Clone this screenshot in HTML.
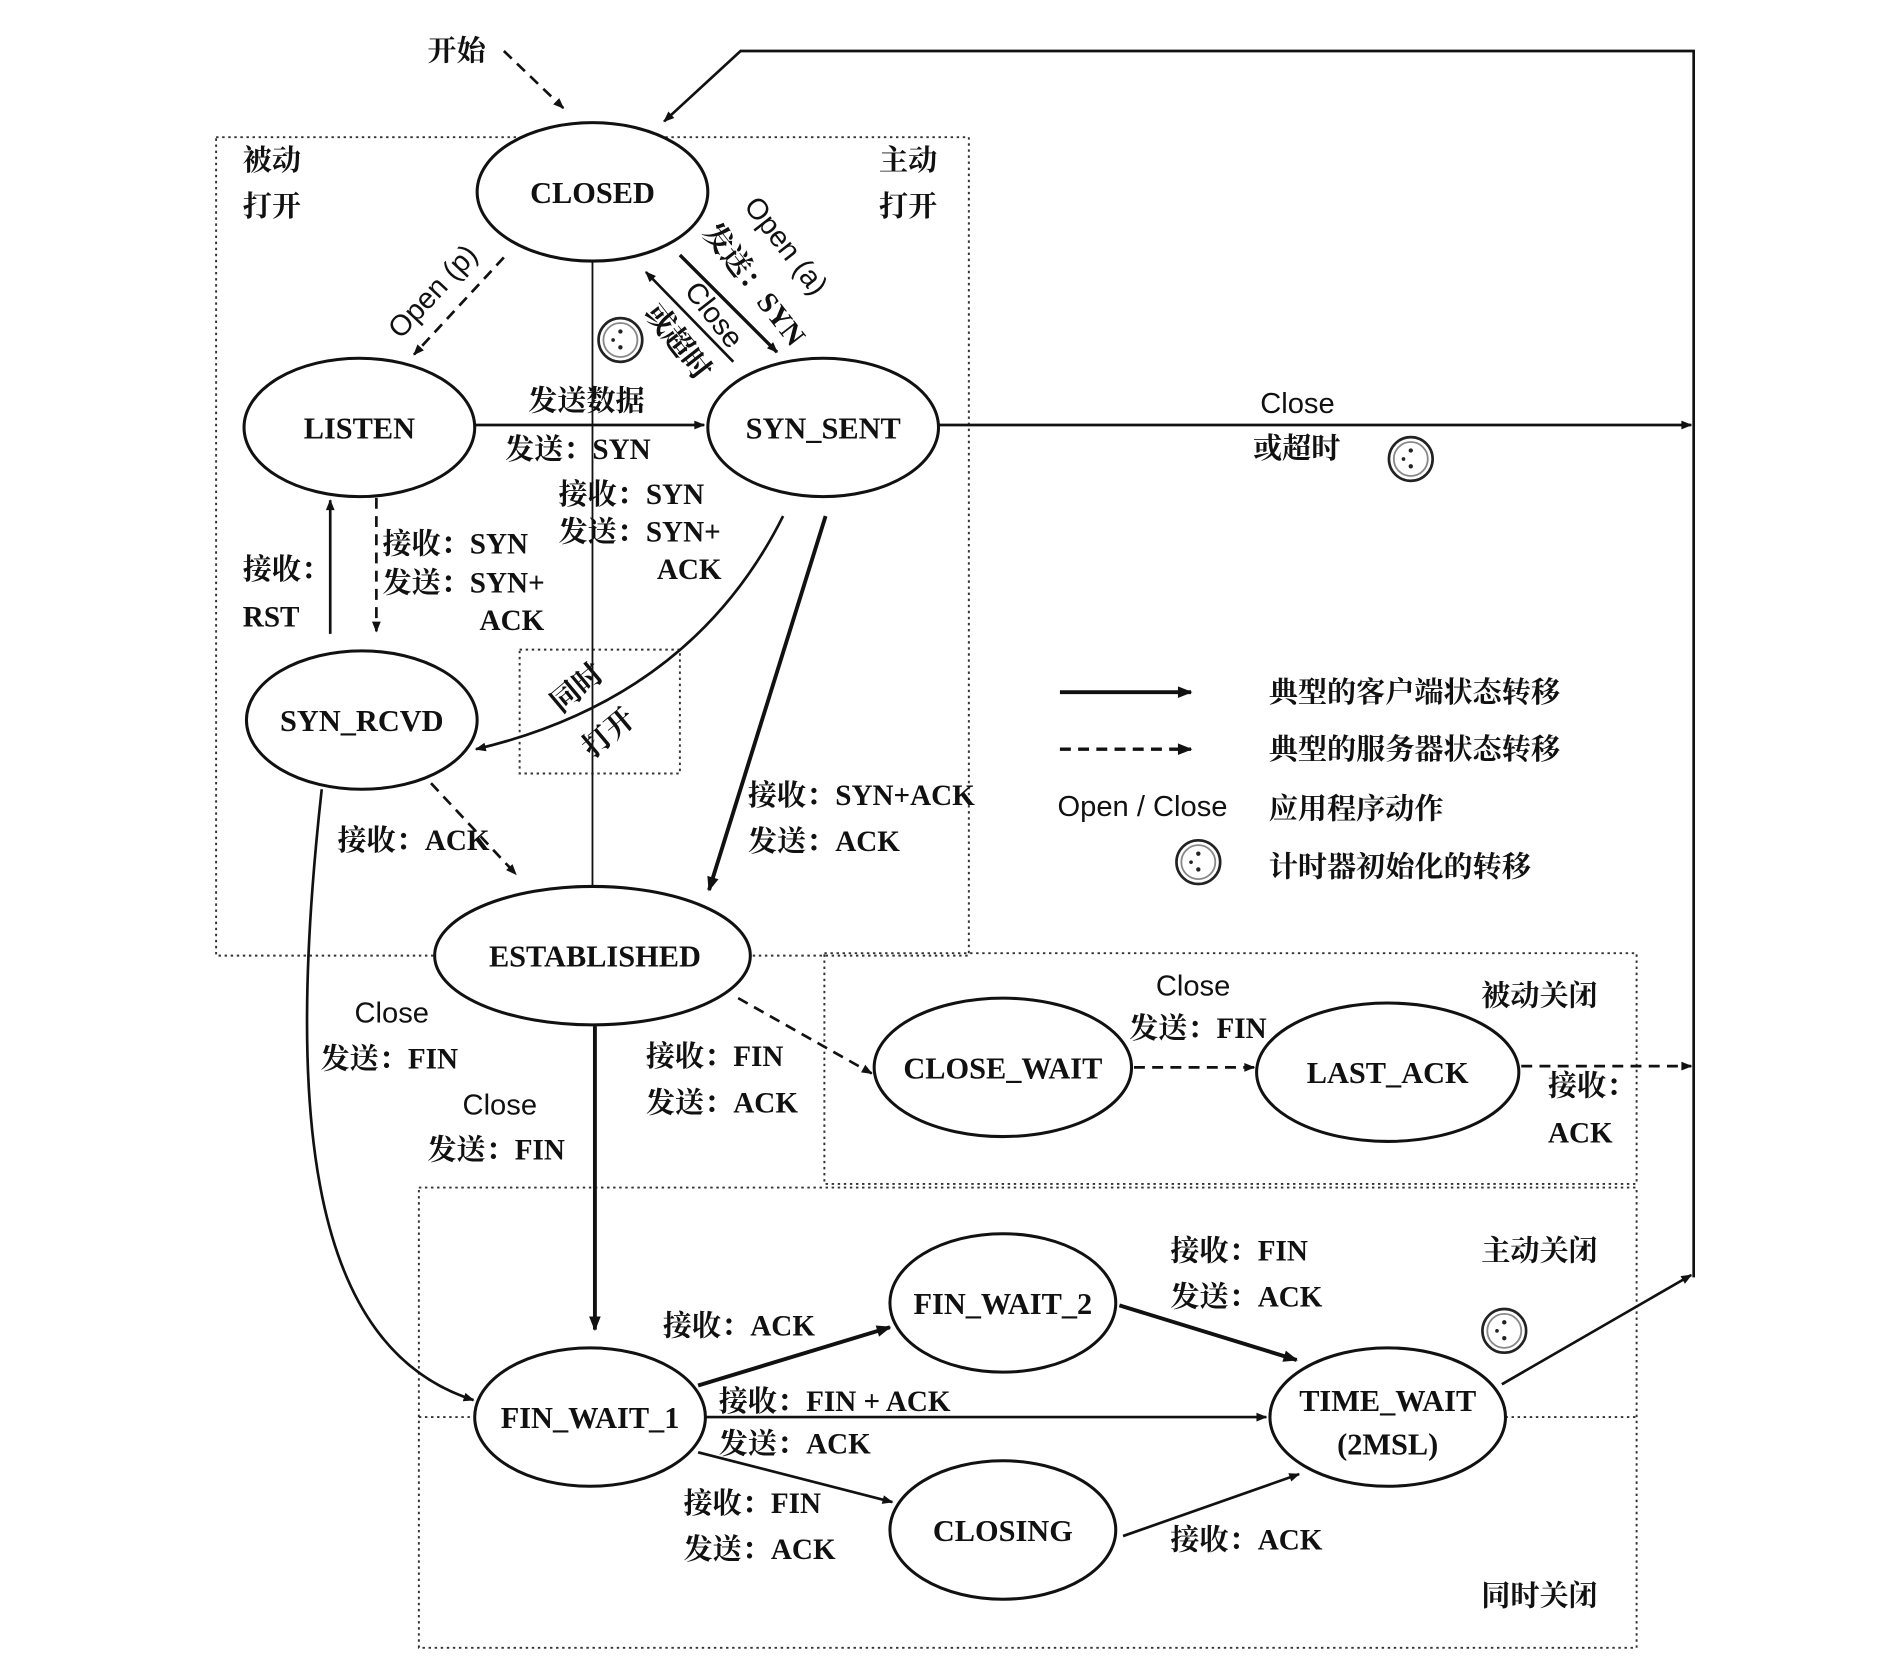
<!DOCTYPE html>
<html><head><meta charset="utf-8"><style>
html,body{margin:0;padding:0;background:#fff;}
svg{display:block;}
.s{font-family:"Liberation Serif","Noto Serif CJK SC",serif;font-size:25px;fill:#111;font-weight:bold;}
.c{font-family:"Liberation Serif","Noto Serif CJK SC",serif;font-size:24px;fill:#111;font-weight:bold;}
.a{font-family:"Liberation Sans","Noto Sans CJK SC",sans-serif;font-size:24px;fill:#111;}
</style></head><body>
<svg width="1894" height="1666" viewBox="0 0 1560 1372" preserveAspectRatio="none" xmlns="http://www.w3.org/2000/svg">
<defs>
<marker id="ar" viewBox="0 0 10 10" refX="9" refY="5" markerWidth="10" markerHeight="9" markerUnits="userSpaceOnUse" orient="auto"><path d="M0,1 L10,5 L0,9 z" fill="#111"/></marker>
<marker id="arb" viewBox="0 0 10 10" refX="9" refY="5" markerWidth="14" markerHeight="12" markerUnits="userSpaceOnUse" orient="auto"><path d="M0,1 L10,5 L0,9 z" fill="#111"/></marker>
<g id="clk"><circle r="18" fill="#fff" stroke="#222" stroke-width="2.2"/><circle r="14" fill="none" stroke="#888" stroke-width="1.5"/><circle cx="0" cy="-7" r="1.8" fill="#222"/><circle cx="0" cy="6" r="1.8" fill="#222"/><circle cx="-6" cy="0" r="1.5" fill="#222"/></g>
</defs>
<g fill="none" stroke="#333" stroke-width="1.6" stroke-dasharray="2,3">
<rect x="178" y="113" width="620" height="674"/>
<rect x="428" y="535" width="132" height="102"/>
<rect x="679" y="785" width="669" height="190"/>
<rect x="345" y="978" width="1003" height="379"/>
<line x1="345" y1="1167" x2="1348" y2="1167"/>
</g>
<g fill="none" stroke="#111" stroke-width="2.2">
<line x1="488" y1="215" x2="488" y2="730" stroke-width="1.5"/>
<polyline points="1395,1052 1395,42 610,42 547,100" marker-end="url(#ar)"/>
<line x1="773" y1="350" x2="1393" y2="350" marker-end="url(#ar)"/>
<line x1="1237" y1="1140" x2="1393" y2="1050" marker-end="url(#ar)"/>
<line x1="560" y1="210" x2="640" y2="290" stroke-width="2.8" marker-end="url(#ar)"/>
<line x1="604" y1="298" x2="532" y2="224" marker-end="url(#ar)"/>
<line x1="391" y1="350" x2="580" y2="350" marker-end="url(#ar)"/>
<line x1="272" y1="522" x2="272" y2="412" marker-end="url(#ar)"/>
<path d="M645,425 Q570,575 392,617" marker-end="url(#ar)"/>
<line x1="680" y1="425" x2="584" y2="733" stroke-width="3.2" marker-end="url(#arb)"/>
<line x1="490" y1="845" x2="490" y2="1095" stroke-width="3.2" marker-end="url(#arb)"/>
<path d="M265,650 C235,920 255,1110 390,1153" marker-end="url(#ar)"/>
<line x1="575" y1="1141" x2="733" y2="1093" stroke-width="3.2" marker-end="url(#arb)"/>
<line x1="581" y1="1167" x2="1043" y2="1167" marker-end="url(#ar)"/>
<line x1="575" y1="1196" x2="735" y2="1237" marker-end="url(#ar)"/>
<line x1="922" y1="1075" x2="1068" y2="1120" stroke-width="3.2" marker-end="url(#arb)"/>
<line x1="925" y1="1265" x2="1070" y2="1214" marker-end="url(#ar)"/>
<line x1="873" y1="570" x2="981" y2="570" stroke-width="3.2" marker-end="url(#arb)"/>
</g>
<g fill="none" stroke="#111" stroke-width="2.2" stroke-dasharray="9,6">
<line x1="415" y1="42" x2="464" y2="89" marker-end="url(#ar)"/>
<line x1="415" y1="212" x2="341" y2="292" marker-end="url(#ar)"/>
<line x1="310" y1="410" x2="310" y2="520" marker-end="url(#ar)"/>
<line x1="355" y1="645" x2="425" y2="720" marker-end="url(#ar)"/>
<line x1="608" y1="822" x2="718" y2="884" marker-end="url(#ar)"/>
<line x1="934" y1="879" x2="1033" y2="879" marker-end="url(#ar)"/>
<line x1="1253" y1="878" x2="1393" y2="878" marker-end="url(#ar)"/>
<line x1="873" y1="617" x2="981" y2="617" stroke-width="2.8" marker-end="url(#arb)"/>
</g>
<g fill="#fff" stroke="#111" stroke-width="2.5">
<ellipse cx="488" cy="158" rx="95" ry="57"/>
<ellipse cx="296" cy="352" rx="95" ry="57"/>
<ellipse cx="678" cy="352" rx="95" ry="57"/>
<ellipse cx="298" cy="593" rx="95" ry="57"/>
<ellipse cx="488" cy="787" rx="130" ry="57"/>
<ellipse cx="826" cy="879" rx="106" ry="57"/>
<ellipse cx="1143" cy="883" rx="108" ry="57"/>
<ellipse cx="486" cy="1167" rx="95" ry="57"/>
<ellipse cx="826" cy="1073" rx="93" ry="57"/>
<ellipse cx="826" cy="1260" rx="93" ry="57"/>
<ellipse cx="1143" cy="1167" rx="97" ry="57"/>
</g>
<g class="s" text-anchor="middle">
<text x="488" y="167">CLOSED</text>
<text x="296" y="361">LISTEN</text>
<text x="678" y="361">SYN_SENT</text>
<text x="298" y="602">SYN_RCVD</text>
<text x="490" y="796">ESTABLISHED</text>
<text x="826" y="888">CLOSE_WAIT</text>
<text x="1143" y="892">LAST_ACK</text>
<text x="486" y="1176">FIN_WAIT_1</text>
<text x="826" y="1082">FIN_WAIT_2</text>
<text x="826" y="1269">CLOSING</text>
<text x="1143" y="1162">TIME_WAIT</text>
<text x="1143" y="1198">(2MSL)</text>
</g>
<g class="c">
<text x="352" y="50">开始</text>
<text x="200" y="140">被动</text><text x="200" y="178">打开</text>
<text x="724" y="140">主动</text><text x="724" y="178">打开</text>
<text x="435" y="338">发送数据</text>
<text x="416" y="378">发送：SYN</text>
<text x="460" y="415">接收：SYN</text>
<text x="460" y="446">发送：SYN+</text>
<text x="541" y="477">ACK</text>
<text x="315" y="456">接收：SYN</text>
<text x="315" y="488">发送：SYN+</text>
<text x="395" y="519">ACK</text>
<text x="200" y="477">接收：</text>
<text x="200" y="516">RST</text>
<text x="278" y="700">接收：ACK</text>
<text x="616" y="663">接收：SYN+ACK</text>
<text x="616" y="701">发送：ACK</text>
<text x="264" y="880">发送：FIN</text>
<text x="352" y="955">发送：FIN</text>
<text x="532" y="878">接收：FIN</text>
<text x="532" y="916">发送：ACK</text>
<text x="930" y="855">发送：FIN</text>
<text x="1220" y="828">被动关闭</text>
<text x="1275" y="902">接收：</text>
<text x="1275" y="941">ACK</text>
<text x="1032" y="377">或超时</text>
<text x="964" y="1038">接收：FIN</text>
<text x="964" y="1076">发送：ACK</text>
<text x="1220" y="1038">主动关闭</text>
<text x="546" y="1100">接收：ACK</text>
<text x="592" y="1162">接收：FIN + ACK</text>
<text x="592" y="1197">发送：ACK</text>
<text x="563" y="1246">接收：FIN</text>
<text x="563" y="1284">发送：ACK</text>
<text x="964" y="1276">接收：ACK</text>
<text x="1220" y="1322">同时关闭</text>
<text x="1045" y="578">典型的客户端状态转移</text>
<text x="1045" y="625">典型的服务器状态转移</text>
<text x="1045" y="674">应用程序动作</text>
<text x="1045" y="722">计时器初始化的转移</text>
<text transform="translate(462,588) rotate(-40)">同时</text>
<text transform="translate(488,625) rotate(-40)">打开</text>
<text transform="translate(578,192) rotate(52)">发送：SYN</text>
<text transform="translate(530,258) rotate(52)">或超时</text>
</g>
<g class="a">
<text x="292" y="842">Close</text>
<text x="381" y="918">Close</text>
<text x="952" y="820">Close</text>
<text x="1038" y="340">Close</text>
<text x="871" y="672">Open / Close</text>
<text transform="translate(330,280) rotate(-47)">Open (p)</text>
<text transform="translate(612,170) rotate(52)">Open (a)</text>
<text transform="translate(563,240) rotate(52)">Close</text>
</g>
<use href="#clk" x="511" y="280"/>
<use href="#clk" x="1162" y="378"/>
<use href="#clk" x="987" y="710"/>
<use href="#clk" x="1239" y="1096"/>
</svg>
</body></html>
